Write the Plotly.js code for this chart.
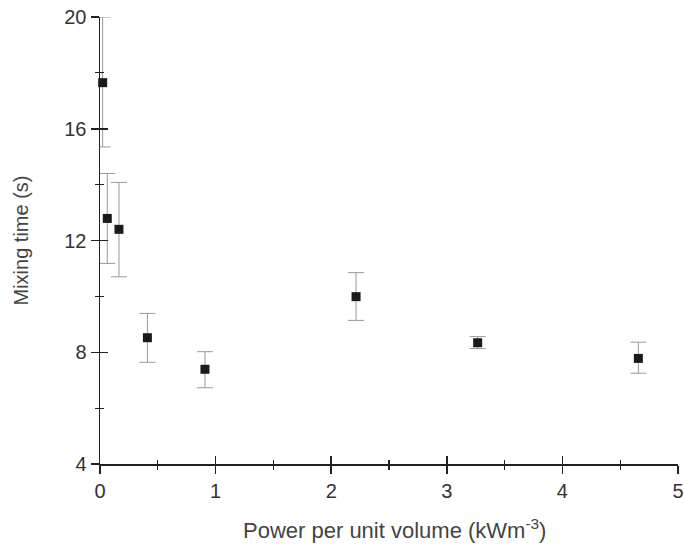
<!DOCTYPE html>
<html>
<head>
<meta charset="utf-8">
<script src="https://cdn.plot.ly/plotly-3.0.1.min.js"></script>
<style>html,body{margin:0;padding:0;background:#fff;}#chart{width:684px;height:544px;}</style>
</head>
<body>
<div id="chart"></div>
<script>
// Data
const powerPerVolume = [0.023, 0.063, 0.164, 0.41, 0.908, 2.215, 3.267, 4.657];
const mixingTime     = [17.65, 12.79, 12.40, 8.52, 7.39, 9.99, 8.34, 7.78];
const errUpper       = [2.35, 1.61, 1.68, 0.87, 0.63, 0.86, 0.22, 0.58];
const errLower       = [2.30, 1.61, 1.70, 0.88, 0.66, 0.85, 0.21, 0.53];
const xTickVals = [0, 1, 2, 3, 4, 5];
const yTickVals = [4, 8, 12, 16, 20];

const axisColor = '#222';
const fontFam = 'Liberation Sans, Arial, sans-serif';

const trace = {
  x: powerPerVolume,
  y: mixingTime,
  type: 'scatter',
  mode: 'markers',
  marker: {symbol: 'square', size: 9, color: '#1a1a1a'},
  error_y: {type: 'data', symmetric: false, array: errUpper, arrayminus: errLower,
            color: '#999', thickness: 1, width: 8},
  cliponaxis: false,
  showlegend: false
};
// invisible companion trace so the overlay axes (inner tick halves) are drawn
const ghost = {
  x: powerPerVolume, y: mixingTime, xaxis: 'x2', yaxis: 'y2',
  type: 'scatter', mode: 'markers', marker: {opacity: 0}, hoverinfo: 'skip', showlegend: false
};

const baseX = {
  range: [0, 5], tickvals: xTickVals, showgrid: false, zeroline: false,
  showline: true, linecolor: axisColor, linewidth: 1.5,
  ticklen: 8, tickwidth: 1.5, tickcolor: axisColor,
  minor: {dtick: 0.5, tick0: 0, ticklen: 4, tickwidth: 1.2, tickcolor: axisColor, showgrid: false}
};
const baseY = {
  range: [4, 20], tickvals: yTickVals, showgrid: false, zeroline: false,
  showline: true, linecolor: axisColor, linewidth: 1.5,
  ticklen: 8, tickwidth: 1.5, tickcolor: axisColor,
  minor: {dtick: 2, tick0: 4, ticklen: 4, tickwidth: 1.2, tickcolor: axisColor, showgrid: false}
};

const layout = {
  width: 684, height: 544,
  margin: {l: 100, r: 6, t: 17, b: 80},
  paper_bgcolor: '#fff', plot_bgcolor: '#fff',
  font: {family: fontFam, color: '#333', size: 20},
  xaxis: Object.assign({}, baseX, {
    ticks: 'outside', minor: Object.assign({}, baseX.minor, {ticks: 'outside'}),
    tickfont: {size: 20, color: '#333', family: fontFam}
  }),
  xaxis2: Object.assign({}, baseX, {
    overlaying: 'x', anchor: 'y', side: 'bottom', ticks: 'inside', showticklabels: false,
    minor: Object.assign({}, baseX.minor, {ticks: 'inside'})
  }),
  yaxis: Object.assign({}, baseY, {
    ticks: 'outside', minor: Object.assign({}, baseY.minor, {ticks: 'outside'}),
    tickfont: {size: 20, color: '#333', family: fontFam},
    title: {text: 'Mixing time (s)', font: {size: 20, color: '#444', family: fontFam}, standoff: 30}
  }),
  yaxis2: Object.assign({}, baseY, {
    overlaying: 'y', anchor: 'x', side: 'left', ticks: 'inside', showticklabels: false,
    minor: Object.assign({}, baseY.minor, {ticks: 'inside'})
  }),
  annotations: [{
    text: 'Power per unit volume (kWm<sup>-3</sup>)',
    xref: 'paper', yref: 'paper', x: 0.51, y: -0.145,
    xanchor: 'center', yanchor: 'middle', showarrow: false,
    font: {size: 22, color: '#444', family: fontFam}
  }]
};

Plotly.newPlot('chart', [trace, ghost], layout, {displayModeBar: false, staticPlot: true});
</script>
</body>
</html>
